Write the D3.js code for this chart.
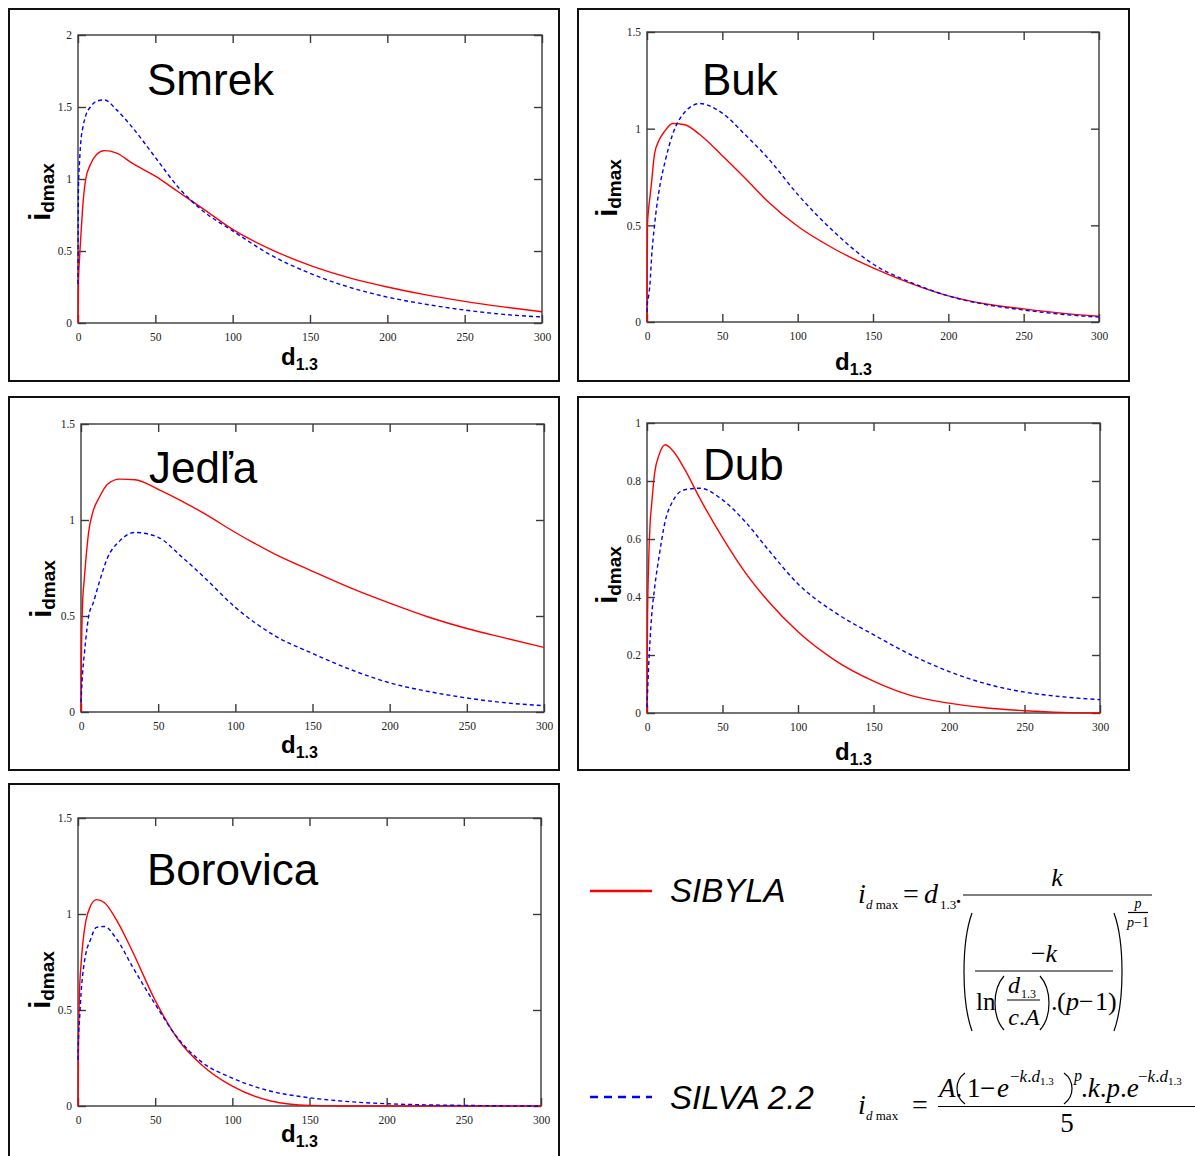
<!doctype html>
<html lang='sk'>
<head>
<meta charset='UTF-8'>
<title>idmax</title>
<style>
  body,html{margin:0;padding:0;background:#fff;}
  svg{display:block;font-family:'Liberation Sans', Arial, sans-serif;}
  .frame{fill:none;stroke:#3a3a3a;stroke-width:1.4;}
  .box{fill:none;stroke:#111;stroke-width:2;}
  .axis path{display:none;}
  .axis line{stroke:#3a3a3a;stroke-width:1.4;}
  .axis text{font-family:'Liberation Serif','Times New Roman',serif;font-size:11.5px;fill:#222;}
  .sibyla{fill:none;stroke:#ff0000;stroke-width:1.4;}
  .silva{fill:none;stroke:#0000ff;stroke-width:1.4;stroke-dasharray:4,3;}
  .title{font-size:44px;fill:#000;}
  .lab{font-weight:bold;fill:#000;}
  .math{font-family:'Liberation Serif','Times New Roman',serif;fill:#000;}
  .mline{stroke:#000;stroke-width:1.2;fill:none;}
</style>
</head>
<body>
<script src='https://cdn.jsdelivr.net/npm/d3@7'></script>
<script>
  // d1.3 sample points (shared by all curves)
  const d13 = [0, 0.3, 1, 2, 3, 5, 8, 12, 17, 25, 35, 50, 65, 80, 100, 125, 150, 175, 200, 225, 250, 275, 300]
  const xTicks = [0, 50, 100, 150, 200, 250, 300]

  // values: SIBYLA (red) and SILVA 2.2 (blue)
  const smrekSibyla    = [0, 0.28, 0.45, 0.63, 0.8, 1.0, 1.1, 1.17, 1.197, 1.18, 1.11, 1.02, 0.91, 0.8, 0.65, 0.51, 0.4, 0.315, 0.25, 0.195, 0.15, 0.112, 0.078]
  const smrekSilva     = [0.27, 0.95, 1.12, 1.28, 1.35, 1.44, 1.5, 1.54, 1.549, 1.48, 1.36, 1.15, 0.94, 0.785, 0.64, 0.47, 0.345, 0.25, 0.18, 0.13, 0.09, 0.06, 0.042]
  const bukSibyla      = [0, 0.5, 0.58, 0.65, 0.72, 0.87, 0.94, 0.99, 1.027, 1.02, 0.97, 0.86, 0.745, 0.625, 0.495, 0.375, 0.28, 0.2, 0.135, 0.093, 0.068, 0.046, 0.03]
  const bukSilva       = [0.05, 0.1, 0.13, 0.2, 0.33, 0.5, 0.68, 0.83, 0.97, 1.085, 1.13, 1.08, 0.97, 0.85, 0.66, 0.46, 0.3, 0.205, 0.135, 0.09, 0.062, 0.04, 0.025]
  const jedlaSibyla    = [0, 0.3, 0.56, 0.68, 0.78, 0.94, 1.05, 1.12, 1.185, 1.213, 1.21, 1.16, 1.1, 1.033, 0.935, 0.825, 0.733, 0.645, 0.567, 0.495, 0.435, 0.385, 0.336]
  const jedlaSilva     = [0.05, 0.1, 0.2, 0.29, 0.37, 0.5, 0.57, 0.68, 0.8, 0.89, 0.935, 0.91, 0.81, 0.7, 0.545, 0.4, 0.305, 0.22, 0.152, 0.107, 0.073, 0.048, 0.033]
  const dubSibyla      = [0, 0.3, 0.5, 0.65, 0.715, 0.825, 0.89, 0.925, 0.905, 0.84, 0.74, 0.605, 0.485, 0.387, 0.28, 0.18, 0.11, 0.06, 0.034, 0.017, 0.008, 0.002, 0]
  const dubSilva       = [0.02, 0.06, 0.15, 0.25, 0.33, 0.43, 0.54, 0.66, 0.73, 0.77, 0.775, 0.735, 0.66, 0.565, 0.445, 0.345, 0.27, 0.2, 0.143, 0.1, 0.072, 0.056, 0.046]
  const borovicaSibyla = [0, 0.3, 0.6, 0.74, 0.84, 0.96, 1.04, 1.075, 1.06, 0.968, 0.81, 0.55, 0.345, 0.215, 0.103, 0.026, 0.003, 0, 0, 0, 0, 0, 0]
  const borovicaSilva  = [0.24, 0.35, 0.45, 0.59, 0.68, 0.79, 0.865, 0.93, 0.935, 0.87, 0.73, 0.53, 0.35, 0.23, 0.145, 0.077, 0.043, 0.023, 0.012, 0.006, 0.003, 0.001, 0]

  const yTicks15 = [0, 0.5, 1, 1.5]
  const yTicks2  = [0, 0.5, 1, 1.5, 2]
  const yTicks1  = [0, 0.2, 0.4, 0.6, 0.8, 1]

  const panels = [
    {name: 'Smrek',    red: smrekSibyla,    blue: smrekSilva,    yMax: 2,   yTicks: yTicks2,
     box: [9, 9, 559, 381],     plot: [78, 35, 542, 323],    title: [147, 95],  xlab: [281, 365],  ylab: [50, 192]},
    {name: 'Buk',      red: bukSibyla,      blue: bukSilva,      yMax: 1.5, yTicks: yTicks15,
     box: [578, 9, 1129, 381],  plot: [647, 32, 1099, 322],  title: [702, 95],  xlab: [835, 370],  ylab: [617, 188]},
    {name: 'Jedľa',    red: jedlaSibyla,    blue: jedlaSilva,    yMax: 1.5, yTicks: yTicks15,
     box: [9, 397, 559, 770],   plot: [81, 424, 544, 712],   title: [149, 483], xlab: [281, 753],  ylab: [51, 589]},
    {name: 'Dub',      red: dubSibyla,      blue: dubSilva,      yMax: 1,   yTicks: yTicks1,
     box: [578, 397, 1129, 770], plot: [647, 423, 1100, 713], title: [703, 480], xlab: [835, 760], ylab: [617, 575]},
    {name: 'Borovica', red: borovicaSibyla, blue: borovicaSilva, yMax: 1.5, yTicks: yTicks15,
     box: [9, 784, 559, 1170],  plot: [78, 818, 541, 1106],  title: [147, 885], xlab: [281, 1142], ylab: [50, 980]}
  ]

  const svg = d3.select('body').append('svg')
    .attr('width', 1195)
    .attr('height', 1156)

  panels.forEach(p => {
    const [l, t, r, b] = p.plot
    const g = svg.append('g')

    g.append('rect').attr('class', 'box')
      .attr('x', p.box[0]).attr('y', p.box[1])
      .attr('width', p.box[2] - p.box[0]).attr('height', p.box[3] - p.box[1])

    const x = d3.scaleLinear().domain([0, 300]).range([l, r])
    const y = d3.scaleLinear().domain([0, p.yMax]).range([b, t])

    // ticks point inwards on all four sides, labels only bottom/left
    g.append('g').attr('class', 'axis').attr('transform', `translate(0,${b})`)
      .call(d3.axisBottom(x).tickValues(xTicks).tickSizeInner(-8).tickSizeOuter(0).tickPadding(10).tickFormat(d => d))
    g.append('g').attr('class', 'axis').attr('transform', `translate(0,${t})`)
      .call(d3.axisTop(x).tickValues(xTicks).tickSizeInner(-8).tickSizeOuter(0).tickFormat(''))
    g.append('g').attr('class', 'axis').attr('transform', `translate(${l},0)`)
      .call(d3.axisLeft(y).tickValues(p.yTicks).tickSizeInner(-8).tickSizeOuter(0).tickPadding(6).tickFormat(d => String(d)))
    g.append('g').attr('class', 'axis').attr('transform', `translate(${r},0)`)
      .call(d3.axisRight(y).tickValues(p.yTicks).tickSizeInner(-8).tickSizeOuter(0).tickFormat(''))

    g.append('rect').attr('class', 'frame')
      .attr('x', l).attr('y', t).attr('width', r - l).attr('height', b - t)

    const line = d3.line()
      .x(d => x(d[0]))
      .y(d => y(d[1]))
      .curve(d3.curveMonotoneX)

    g.append('path').attr('class', 'sibyla').attr('d', line(d3.zip(d13, p.red)))
    g.append('path').attr('class', 'silva').attr('d', line(d3.zip(d13, p.blue)))

    g.append('text').attr('class', 'title')
      .attr('x', p.title[0]).attr('y', p.title[1])
      .text(p.name)

    // x label d1.3
    const xl = g.append('text').attr('class', 'lab').attr('x', p.xlab[0]).attr('y', p.xlab[1])
    xl.append('tspan').style('font-size', '24px').text('d')
    xl.append('tspan').style('font-size', '16px').attr('dy', 5).text('1.3')

    // y label idmax
    const yl = g.append('text').attr('class', 'lab')
      .attr('text-anchor', 'middle')
      .attr('transform', `translate(${p.ylab[0]},${p.ylab[1]}) rotate(-90)`)
    yl.append('tspan').style('font-size', '29px').text('i')
    yl.append('tspan').style('font-size', '19px').attr('dy', 4).text('dmax')
  })

  /********************  legend ******************/
  const legend = svg.append('g')
  legend.append('line').attr('x1', 590).attr('x2', 652).attr('y1', 891).attr('y2', 891)
    .style('stroke', '#ff0000').style('stroke-width', 2.5)
  legend.append('line').attr('x1', 590).attr('x2', 652).attr('y1', 1097).attr('y2', 1097)
    .style('stroke', '#0000ff').style('stroke-width', 2.5).style('stroke-dasharray', '8,6')
  legend.append('text').attr('x', 670).attr('y', 902)
    .style('font-size', '33px').style('font-style', 'italic').text('SIBYLA')
  legend.append('text').attr('x', 670).attr('y', 1109)
    .style('font-size', '33px').style('font-style', 'italic').text('SILVA 2.2')

  /********************  formulas ******************/
  const math = svg.append('g').attr('class', 'math')

  function mtext(x, y, size, parts, anchor) {
    const t = math.append('text').attr('x', x).attr('y', y)
      .style('font-size', size + 'px').attr('text-anchor', anchor || 'start')
    parts.forEach(pt => {
      const s = t.append('tspan').text(pt[0])
      if (pt[1]) s.style('font-style', 'italic')
      if (pt[2]) s.style('font-size', pt[2] + 'px')
      if (pt[3]) s.attr('dy', pt[3])
    })
    return t
  }
  function hline(x1, x2, yy) {
    math.append('line').attr('class', 'mline').attr('x1', x1).attr('x2', x2).attr('y1', yy).attr('y2', yy)
  }
  function paren(x, y1, y2, dir, wd) {
    // dir = 1 for "(", -1 for ")"
    const w = (wd || 8) * dir, h = y2 - y1
    math.append('path').attr('class', 'mline')
      .attr('d', `M${x + w},${y1} C${x + w * 0.2},${y1 + h * 0.15} ${x},${y1 + h * 0.3} ${x},${y1 + h / 2} ` +
                 `C${x},${y1 + h * 0.7} ${x + w * 0.2},${y1 + h * 0.85} ${x + w},${y2}`)
  }

  // SIBYLA formula
  mtext(858, 903, 28, [['i', 1]])
  mtext(866, 909, 13, [['d', 1], [' max']])
  mtext(903, 903, 28, [['=']])
  mtext(924, 903, 28, [['d', 1]])
  mtext(940, 909, 13, [['1.3']])
  mtext(955, 903, 28, [['.']])
  hline(963, 1152, 895)
  mtext(1057, 886, 26, [['k', 1]], 'middle')
  paren(964, 913, 1031, 1)
  paren(1122, 913, 1031, -1)
  mtext(1138, 908, 14, [['p', 1]], 'middle')
  hline(1128, 1148, 912.5)
  mtext(1138, 927, 14, [['p', 1], ['−1']], 'middle')
  mtext(1044, 962, 26, [['−'], ['k', 1]], 'middle')
  hline(975, 1113, 971)
  mtext(976, 1010, 25, [['ln']])
  paren(995, 976, 1030, 1, 9)
  paren(1049, 976, 1030, -1, 9)
  mtext(1008, 993, 24, [['d', 1]])
  mtext(1021, 998, 12, [['1.3']])
  hline(1007, 1040, 1000)
  mtext(1024, 1025, 24, [['c', 1], ['.'], ['A', 1]], 'middle')
  mtext(1051, 1010, 26, [['.']])
  mtext(1057, 1010, 26, [['(']])
  mtext(1066, 1010, 26, [['p', 1]])
  mtext(1079, 1010, 26, [['−']])
  mtext(1095, 1010, 26, [['1)']])

  // SILVA 2.2 formula
  mtext(858, 1114, 28, [['i', 1]])
  mtext(866, 1120, 13, [['d', 1], [' max']])
  mtext(912, 1114, 28, [['=']])
  hline(938, 1195, 1106.5)
  mtext(939, 1097, 27, [['A', 1], ['.']])
  paren(957, 1073, 1104, 1)
  mtext(967, 1097, 27, [['1']])
  mtext(980, 1097, 27, [['−']])
  mtext(997, 1097, 27, [['e', 1]])
  mtext(1010, 1082, 17, [['−'], ['k', 1], ['.'], ['d', 1], ['1.3', 0, 11, 3]])
  paren(1072, 1073, 1104, -1)
  mtext(1074, 1081, 16, [['p', 1]])
  mtext(1081, 1097, 27, [['.'], ['k', 1], ['.'], ['p', 1], ['.'], ['e', 1]])
  mtext(1138, 1082, 17, [['−'], ['k', 1], ['.'], ['d', 1], ['1.3', 0, 11, 3]])
  mtext(1067, 1132, 27, [['5']], 'middle')
</script>
</body>
</html>
